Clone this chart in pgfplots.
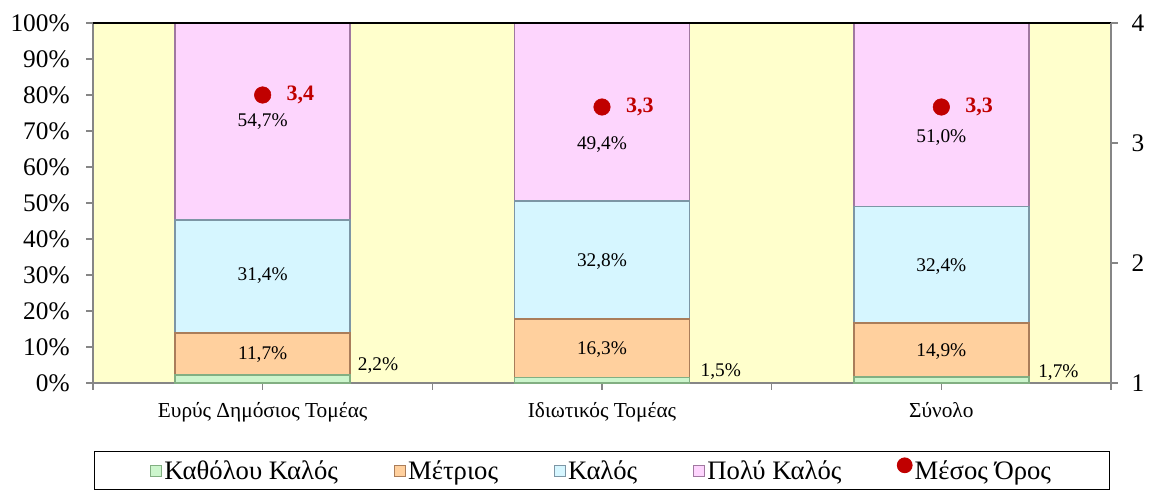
\documentclass[border=0pt]{standalone}
\usepackage{fontspec}
\setmainfont{Liberation Serif}
\usepackage{pgfplots}
\pgfplotsset{compat=1.18}
\usetikzlibrary{calc}

\definecolor{bg}{RGB}{255,255,204}
\definecolor{cgreen}{RGB}{204,245,204}
\definecolor{dgreen}{RGB}{130,175,130}
\definecolor{corange}{RGB}{255,208,158}
\definecolor{dorange}{RGB}{170,125,90}
\definecolor{cblue}{RGB}{214,246,255}
\definecolor{dblue}{RGB}{125,150,165}
\definecolor{cpink}{RGB}{253,213,253}
\definecolor{dpink}{RGB}{160,120,160}
\definecolor{cred}{RGB}{192,0,0}
\definecolor{axgray}{RGB}{134,134,134}

\tikzset{pct/.style={font=\fontsize{14.5}{17}\selectfont}}
\pgfplotsset{barleg/.style={legend image code/.code={\draw[##1, line width=0.6pt] (0pt,-4pt) rectangle (8pt,4pt);}}}

\begin{document}
\begin{tikzpicture}
\begin{axis}[
  name=ax,
  scale only axis, width=763.5pt, height=270pt,
  ybar stacked, bar width=0.515,
  xmin=-0.5, xmax=2.5, ymin=0, ymax=100,
  axis background/.style={fill=bg},
  axis line style={axgray, line width=0.8pt},
  tick align=outside,
  xtick={0,1,2},
  xticklabels={Ευρύς Δημόσιος Τομέας, Ιδιωτικός Τομέας, Σύνολο},
  xtick pos=lower, ytick pos=left,
  extra x ticks={-0.5,0.5,1.5,2.5}, extra x tick labels={},
  x tick label style={font=\fontsize{16}{19}\selectfont, yshift=-6pt},
  ytick={0,10,...,100},
  yticklabel={\pgfmathprintnumber{\tick}\%},
  /pgf/number format/assume math mode=true,
  y tick label style={font=\fontsize{19}{22}\selectfont, xshift=-9pt},
  major tick length=5pt,
  tick style={axgray, line width=0.8pt},
  legend style={at={(0.5,-0.189)}, anchor=north, legend columns=5,
    draw=black, line width=0.8pt, font=\fontsize{20}{23}\selectfont,
    inner xsep=42pt, inner ysep=4.5pt,
    /tikz/every even column/.append style={column sep=40pt}},
]
\addplot[barleg, fill=cgreen, draw=dgreen, line width=1.3pt] coordinates {(0,2.2) (1,1.5) (2,1.7)};
\addlegendentry{Καθόλου Καλός}
\addplot[barleg, fill=corange, draw=dorange, line width=1.3pt] coordinates {(0,11.7) (1,16.3) (2,14.9)};
\addlegendentry{Μέτριος}
\addplot[barleg, fill=cblue, draw=dblue, line width=1.3pt] coordinates {(0,31.4) (1,32.8) (2,32.4)};
\addlegendentry{Καλός}
\addplot[barleg, fill=cpink, draw=dpink, line width=1.3pt] coordinates {(0,54.7) (1,49.4) (2,51.0)};
\addlegendentry{Πολύ Καλός}
\addlegendimage{only marks, mark=*, mark size=5.5pt, color=cred, every mark/.append style={yshift=-2pt}}
\addlegendentry{Μέσος Όρος}
\end{axis}
\draw[black, line width=0.8pt] (ax.north west) -- (ax.north east);

\begin{axis}[
  scale only axis, width=763.5pt, height=270pt,
  xmin=-0.5, xmax=2.5, ymin=1, ymax=4,
  axis x line=none, axis y line*=right,
  axis line style={axgray, line width=0.8pt},
  tick align=outside, major tick length=5pt,
  tick style={axgray, line width=0.8pt},
  ytick={1,2,3,4},
  /pgf/number format/assume math mode=true,
  y tick label style={font=\fontsize{19}{22}\selectfont, xshift=7pt},
  point meta=explicit symbolic,
  nodes near coords,
  nodes near coords style={anchor=west, xshift=14.5pt, text=cred, font=\bfseries\fontsize{16.5}{19}\selectfont},
]
\addplot[only marks, mark=*, mark size=6.2pt, color=cred] coordinates {(0,3.4)[3,4] (1,3.3)[3,3] (2,3.3)[3,3]};
% percentage labels (y = 1 + 0.03 * percent)
\node[pct] at (axis cs:0,3.175) {54,7\%};
\node[pct] at (axis cs:0,1.894) {31,4\%};
\node[pct] at (axis cs:0,1.240) {11,7\%};
\node[pct] at (axis cs:0.34,1.144) {2,2\%};
\node[pct] at (axis cs:1,2.983) {49,4\%};
\node[pct] at (axis cs:1,2.008) {32,8\%};
\node[pct] at (axis cs:1,1.279) {16,3\%};
\node[pct] at (axis cs:1.35,1.099) {1,5\%};
\node[pct] at (axis cs:2,3.043) {51,0\%};
\node[pct] at (axis cs:2,1.969) {32,4\%};
\node[pct] at (axis cs:2,1.264) {14,9\%};
\node[pct] at (axis cs:2.345,1.090) {1,7\%};
\end{axis}

\pgfresetboundingbox
\useasboundingbox ($(ax.south west)+(-69.75pt,-79.5pt)$) rectangle ($(ax.north east)+(28.5pt,17.25pt)$);
\end{tikzpicture}
\end{document}
